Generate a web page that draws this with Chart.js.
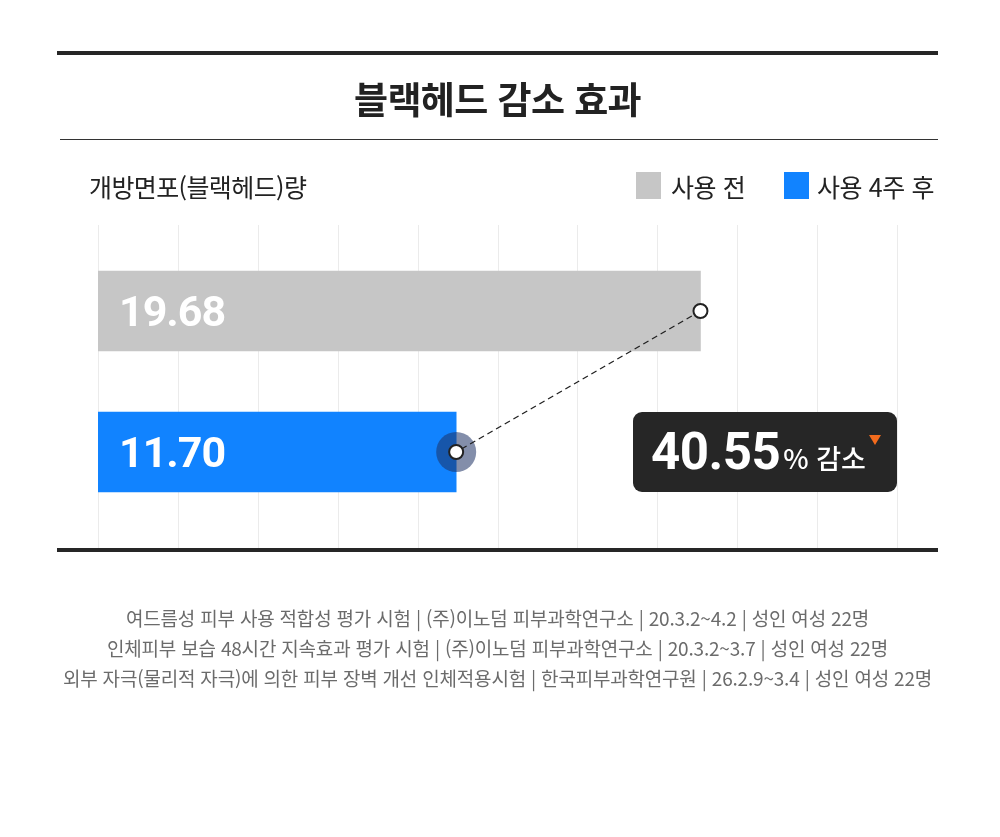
<!DOCTYPE html>
<html lang="ko">
<head>
<meta charset="utf-8">
<script src="https://cdn.jsdelivr.net/npm/chart.js@4.4.1/dist/chart.umd.min.js"></script>
<style>
  html,body{margin:0;padding:0;background:#fff;}
  body{width:1000px;height:837px;position:relative;overflow:hidden;font-family:"Noto Sans CJK KR","Noto Sans",sans-serif;color:#222;}
  .abs{position:absolute;}
  #chart{position:absolute;left:0;top:0;}
  .rule{position:absolute;background:#262626;}
  #title{left:57px;width:881px;top:73px;height:50px;line-height:50px;text-align:center;font-size:37px;font-weight:700;letter-spacing:-0.6px;color:#222;}
  #ylabel{left:89px;top:169px;height:34px;line-height:34px;font-size:25px;letter-spacing:-0.6px;color:#222;}
  .leg{position:absolute;top:169px;height:34px;line-height:34px;font-size:25px;letter-spacing:-0.4px;color:#222;}
  .sw{position:absolute;top:172px;width:25px;height:27px;}
  #badge{left:633px;top:412px;width:264px;height:80px;background:#262626;border-radius:9px;}
  #badgeText{position:absolute;left:18px;top:0;height:80px;line-height:80px;color:#fff;white-space:nowrap;}
  #badgeNum{font-family:Roboto,"Noto Sans",sans-serif;font-weight:700;font-size:51px;letter-spacing:-0.5px;}
  #badgePct{font-family:"Noto Sans CJK KR",sans-serif;font-size:27px;font-weight:500;margin-left:3px;}
  #tri{position:absolute;left:869px;top:435px;width:0;height:0;border-left:6px solid transparent;border-right:6px solid transparent;border-top:10px solid #f26b1d;}
  #foot{left:57px;width:881px;top:603px;text-align:center;font-size:19px;line-height:30px;color:#6b6b6b;letter-spacing:-0.2px;}
</style>
</head>
<body>
<canvas id="chart" width="1000" height="837"></canvas>
<div class="rule" style="left:57px;top:51px;width:881px;height:4px;"></div>
<div class="rule" style="left:60px;top:139px;width:878px;height:1px;background:#333;"></div>
<div class="rule" style="left:57px;top:548px;width:881px;height:4px;"></div>
<div id="title" class="abs"></div>
<div id="ylabel" class="abs"></div>
<div id="legend"></div>
<div id="badge" class="abs"><div id="badgeText"><span id="badgeNum"></span><span id="badgePct"></span></div></div>
<div id="tri"></div>
<div id="foot" class="abs"></div>
<script>
// ---- data ----
const titleText = '블랙헤드 감소 효과';
const axisLabel = '개방면포(블랙헤드)량';
const categories = ['사용 전', '사용 4주 후'];
const values = [19.68, 11.70];
const barColors = ['#c6c6c6', '#1183ff'];
const reductionSuffix = '% 감소';
const footnotes = [
  '여드름성 피부 사용 적합성 평가 시험 | (주)이노덤 피부과학연구소 | 20.3.2~4.2 | 성인 여성 22명',
  '인체피부 보습 48시간 지속효과 평가 시험 | (주)이노덤 피부과학연구소 | 20.3.2~3.7 | 성인 여성 22명',
  '외부 자극(물리적 자극)에 의한 피부 장벽 개선 인체적용시험 | 한국피부과학연구원 | 26.2.9~3.4 | 성인 여성 22명'
];
const axisMax = 26.1;
const gridDivisions = 10;

// ---- text ----
document.getElementById('title').textContent = titleText;
document.getElementById('ylabel').textContent = axisLabel;
document.getElementById('foot').innerHTML = footnotes.map(t => '<div>' + t.replace(/&/g,'&amp;') + '</div>').join('');
const reduction = ((values[0] - values[1]) / values[0] * 100).toFixed(2);
document.getElementById('badgeNum').textContent = reduction;
document.getElementById('badgePct').textContent = reductionSuffix;

// legend
const legendPos = [{sw:636, tx:671}, {sw:784, tx:817}];
const legendEl = document.getElementById('legend');
categories.forEach((c, i) => {
  const s = document.createElement('div');
  s.className = 'sw'; s.style.left = legendPos[i].sw + 'px'; s.style.background = barColors[i];
  legendEl.appendChild(s);
  const t = document.createElement('div');
  t.className = 'leg'; t.style.left = legendPos[i].tx + 'px'; t.textContent = c;
  legendEl.appendChild(t);
});

// ---- plugins ----
const BAR_INDEX = 2;
const gridPlugin = {
  id: 'gridPlugin',
  beforeDatasetsDraw(chart) {
    const x = chart.scales.x, ctx = chart.ctx;
    ctx.save();
    ctx.strokeStyle = '#ebebeb';
    ctx.lineWidth = 1;
    for (let i = 0; i <= gridDivisions; i++) {
      const px = Math.round(x.getPixelForValue(axisMax * i / gridDivisions)) + 0.5;
      ctx.beginPath();
      ctx.moveTo(px, 225);
      ctx.lineTo(px, 548);
      ctx.stroke();
    }
    ctx.restore();
  }
};
const labelPlugin = {
  id: 'labelPlugin',
  afterDatasetsDraw(chart) {
    const meta = chart.getDatasetMeta(BAR_INDEX), ctx = chart.ctx;
    ctx.save();
    ctx.fillStyle = '#ffffff';
    ctx.font = '700 43px Roboto, "Noto Sans", sans-serif';
    if ('letterSpacing' in ctx) ctx.letterSpacing = '-1px';
    ctx.textBaseline = 'middle';
    ctx.textAlign = 'left';
    meta.data.forEach((el, i) => {
      ctx.fillText(values[i].toFixed(2), el.base + 21, el.y + 4);
    });
    ctx.restore();
  }
};

new Chart(document.getElementById('chart'), {
  type: 'bar',
  data: {
    labels: categories,
    datasets: [
      {
        type: 'line',
        data: values,
        borderColor: '#222',
        borderWidth: 1.3,
        borderDash: [6, 4],
        pointRadius: 7,
        pointBackgroundColor: '#fff',
        pointBorderColor: '#222',
        pointBorderWidth: 2,
        fill: false,
        order: 1
      },
      {
        type: 'line',
        data: [null, values[1]],
        showLine: false,
        pointRadius: 20,
        pointBorderWidth: 0,
        pointBackgroundColor: 'rgba(30,50,100,0.55)',
        order: 2
      },
      {
        type: 'bar',
        data: values,
        backgroundColor: barColors,
        barThickness: 80,
        order: 3
      }
    ]
  },
  options: {
    indexAxis: 'y',
    responsive: false,
    animation: false,
    events: [],
    layout: { padding: { left: 98, right: 103, top: 240.5, bottom: 314.5 } },
    plugins: { legend: { display: false }, tooltip: { enabled: false }, title: { display: false } },
    scales: {
      x: { display: false, min: 0, max: axisMax },
      y: { display: false, offset: true }
    }
  },
  plugins: [gridPlugin, labelPlugin]
});
</script>
</body>
</html>
